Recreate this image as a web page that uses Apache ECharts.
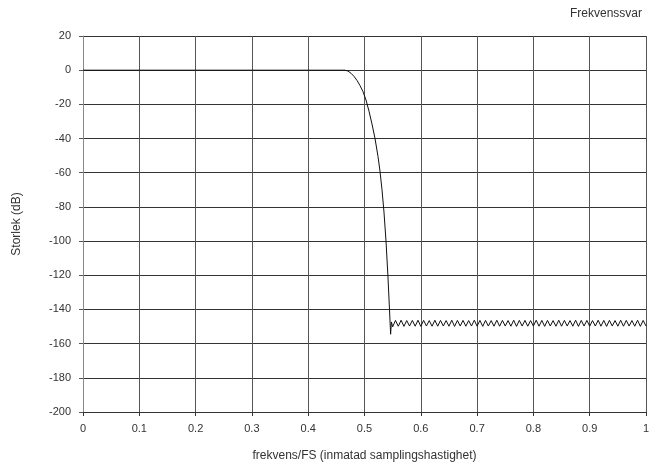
<!DOCTYPE html>
<html>
<head>
<meta charset="utf-8">
<script src="https://cdn.jsdelivr.net/npm/echarts@6/dist/echarts.min.js"></script>
<style>
html,body{margin:0;padding:0;background:#fff;}
#chart{width:653px;height:467px;}
</style>
</head>
<body>
<div id="chart"></div>
<script>
// Frequency (normalized to FS) and magnitude (dB)
const transitionFreq = [0, 0.44, 0.4654, 0.4707, 0.4760, 0.4813, 0.4867, 0.4920, 0.4973, 0.5027, 0.5080, 0.5133, 0.5187, 0.5240, 0.5275, 0.5311, 0.5346, 0.5382, 0.5417, 0.5444, 0.5464, 0.5478];
const transitionMag  = [0, 0, 0, -0.5, -1.8, -3.6, -6, -9, -12.5, -17.5, -24, -31.5, -40, -50.5, -59, -70, -83, -100, -121, -140, -154.5, -147.3];

const rippleFreq = [0.550, 0.555, 0.560, 0.565, 0.570, 0.575, 0.580, 0.585, 0.590, 0.595,
  0.600, 0.605, 0.610, 0.615, 0.620, 0.625, 0.630, 0.635, 0.640, 0.645,
  0.650, 0.655, 0.660, 0.665, 0.670, 0.675, 0.680, 0.685, 0.690, 0.695,
  0.700, 0.705, 0.710, 0.715, 0.720, 0.725, 0.730, 0.735, 0.740, 0.745,
  0.750, 0.755, 0.760, 0.765, 0.770, 0.775, 0.780, 0.785, 0.790, 0.795,
  0.800, 0.805, 0.810, 0.815, 0.820, 0.825, 0.830, 0.835, 0.840, 0.845,
  0.850, 0.855, 0.860, 0.865, 0.870, 0.875, 0.880, 0.885, 0.890, 0.895,
  0.900, 0.905, 0.910, 0.915, 0.920, 0.925, 0.930, 0.935, 0.940, 0.945,
  0.950, 0.955, 0.960, 0.965, 0.970, 0.975, 0.980, 0.985, 0.990, 0.995, 1.000];
const rippleMag = [-150.2, -146.4, -149.8, -146.3, -149.9, -146.5, -149.7, -146.4, -149.8, -146.3,
  -149.9, -146.4, -149.7, -146.5, -149.8, -146.3, -149.8, -146.4, -149.7, -146.5,
  -149.8, -146.3, -149.9, -146.4, -149.7, -146.4, -149.8, -146.5, -149.7, -146.3,
  -149.8, -146.4, -149.9, -146.4, -149.7, -146.5, -149.8, -146.3, -149.8, -146.4,
  -149.7, -146.5, -149.8, -146.3, -149.9, -146.4, -149.7, -146.4, -149.8, -146.5,
  -149.7, -146.3, -149.8, -146.4, -149.9, -146.4, -149.7, -146.5, -149.8, -146.3,
  -149.8, -146.4, -149.7, -146.5, -149.8, -146.3, -149.9, -146.4, -149.7, -146.4,
  -149.8, -146.5, -149.7, -146.3, -149.8, -146.4, -149.9, -146.4, -149.7, -146.5,
  -149.8, -146.3, -149.8, -146.4, -149.7, -146.5, -149.8, -146.3, -149.9, -146.4, -149.7];

const xTicks = { min: 0, max: 1, interval: 0.1 };
const yTicks = { min: -200, max: 20, interval: 20 };

const points = [];
transitionFreq.forEach((f, i) => points.push([f, transitionMag[i]]));
rippleFreq.forEach((f, i) => points.push([f, rippleMag[i]]));

const font = 'Liberation Sans, Arial, sans-serif';
const chart = echarts.init(document.getElementById('chart'), null, { renderer: 'canvas' });
chart.setOption({
  animation: false,
  backgroundColor: '#fff',
  title: {
    text: 'Frekvenssvar',
    right: 6, top: 3,
    textStyle: { fontFamily: font, fontSize: 12, fontWeight: 'normal', color: '#333' }
  },
  grid: { left: 83, right: 7, top: 36, bottom: 54, containLabel: false },
  xAxis: {
    type: 'value',
    min: xTicks.min, max: xTicks.max, interval: xTicks.interval,
    name: 'frekvens/FS (inmatad samplingshastighet)',
    nameLocation: 'middle', nameGap: 38,
    nameTextStyle: { fontFamily: font, fontSize: 12, color: '#333' },
    axisLine: { onZero: false, lineStyle: { color: '#333', width: 1 } },
    axisTick: { show: true, inside: false, length: 4, lineStyle: { color: '#333' } },
    axisLabel: { fontFamily: font, fontSize: 11, color: '#333', margin: 11,
      formatter: v => String(Math.round(v * 10) / 10) },
    splitLine: { show: true, lineStyle: { color: '#555', width: 1 } }
  },
  yAxis: {
    type: 'value',
    min: yTicks.min, max: yTicks.max, interval: yTicks.interval,
    name: 'Storlek (dB)',
    nameLocation: 'middle', nameGap: 60, nameRotate: 90,
    nameTextStyle: { fontFamily: font, fontSize: 12, color: '#333' },
    axisLine: { show: true, onZero: false, lineStyle: { color: '#888', width: 1 } },
    axisTick: { show: true, inside: false, length: 4, lineStyle: { color: '#555' } },
    axisLabel: { fontFamily: font, fontSize: 11, color: '#333', margin: 12 },
    splitLine: { show: true, lineStyle: { color: '#333', width: 1 } }
  },
  series: [{
    type: 'line',
    data: points,
    showSymbol: false,
    symbol: 'none',
    lineStyle: { color: '#111', width: 1 },
    z: 5
  }]
});
</script>
</body>
</html>
